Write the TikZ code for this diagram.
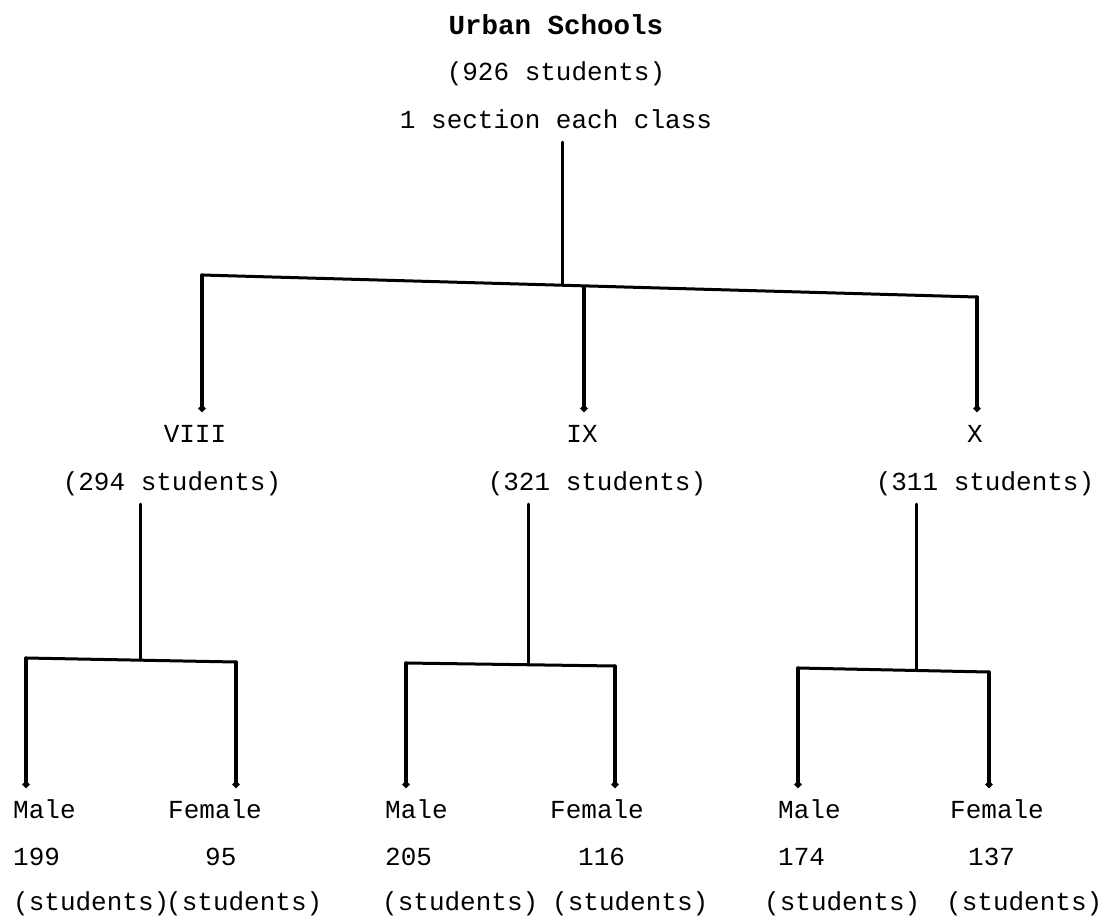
\documentclass[tikz,border=0pt]{standalone}
\usepackage{fontspec}
\setmonofont{Liberation Mono}
\usepackage{tikz}
\usetikzlibrary{arrows.meta}

\begin{document}
\begin{tikzpicture}[x=1pt,y=-1pt]
\tikzset{lbl/.style = {font=\ttfamily\fontsize{26}{30}\selectfont, inner sep=0pt, text height=18pt, text depth=6pt, anchor=base}}
\tikzset{edge/.style = {line width=3pt, line cap=round}}
\tikzset{trunk/.style = {edge, shorten <=8pt}}
\tikzset{drop/.style = {edge, line width=3.4pt, -{Circle[length=6.5pt]}, shorten >=12pt}}
\useasboundingbox (0,0) rectangle (1109,922);
% top
\node[lbl, font=\ttfamily\bfseries\fontsize{27.5}{30}\selectfont] (urban) at (556,34) {Urban Schools};
\node[lbl] (all) at (556,80) {(926 students)};
\node[lbl] (sec) at (556,128) {1 section each class};
% classes
\node[lbl] (viii) at (195,442) {VIII};
\node[lbl] (ix) at (582,442) {IX};
\node[lbl] (x) at (975,442) {X};
\node[lbl] (nviii) at (172,490) {(294 students)};
\node[lbl] (nix) at (597,490) {(321 students)};
\node[lbl] (nx) at (985,490) {(311 students)};
% male / female
\node[lbl, anchor=base west] (mviii) at (13,818) {Male};
\node[lbl, anchor=base west] (fviii) at (168,818) {Female};
\node[lbl, anchor=base west] (cmviii) at (13,865) {199};
\node[lbl, anchor=base west] (cfviii) at (205,865) {95};
\node[lbl, anchor=base west] (smviii) at (13,910) {(students)};
\node[lbl, anchor=base west] (sfviii) at (166,910) {(students)};
\node[lbl, anchor=base west] (mix) at (385,818) {Male};
\node[lbl, anchor=base west] (fix) at (550,818) {Female};
\node[lbl, anchor=base west] (cmix) at (385,865) {205};
\node[lbl, anchor=base west] (cfix) at (578,865) {116};
\node[lbl, anchor=base west] (smix) at (382,910) {(students)};
\node[lbl, anchor=base west] (sfix) at (552,910) {(students)};
\node[lbl, anchor=base west] (mx) at (778,818) {Male};
\node[lbl, anchor=base west] (fx) at (950,818) {Female};
\node[lbl, anchor=base west] (cmx) at (778,865) {174};
\node[lbl, anchor=base west] (cfx) at (968,865) {137};
\node[lbl, anchor=base west] (smx) at (764,910) {(students)};
\node[lbl, anchor=base west] (sfx) at (946,910) {(students)};
% joints
\coordinate (jL) at (202,275);
\coordinate (jT) at (562,285);
\coordinate (jM) at (584,287);
\coordinate (jR) at (977,297);
\coordinate (tviii) at (140,660);
\coordinate (aviii) at (26,658);
\coordinate (bviii) at (236,662);
\coordinate (tix) at (528,664);
\coordinate (aix) at (406,663);
\coordinate (bix) at (615,666);
\coordinate (tx) at (916,670);
\coordinate (ax) at (798,668);
\coordinate (bx) at (989,672);
% edges
\draw[trunk] (sec.south -| jT) to (jT);
\draw[edge] (jL) to (jR);
\draw[drop] (jL) to (jL |- viii.north);
\draw[drop] (jM) to (jM |- ix.north);
\draw[drop] (jR) to (jR |- x.north);
\draw[trunk] (nviii.south -| tviii) to (tviii);
\draw[trunk] (nix.south -| tix) to (tix);
\draw[trunk] (nx.south -| tx) to (tx);
\draw[edge] (aviii) to (bviii);
\draw[edge] (aix) to (bix);
\draw[edge] (ax) to (bx);
\draw[drop] (aviii) to (aviii |- mviii.north);
\draw[drop] (bviii) to (bviii |- fviii.north);
\draw[drop] (aix) to (aix |- mix.north);
\draw[drop] (bix) to (bix |- fix.north);
\draw[drop] (ax) to (ax |- mx.north);
\draw[drop] (bx) to (bx |- fx.north);
\end{tikzpicture}
\end{document}
